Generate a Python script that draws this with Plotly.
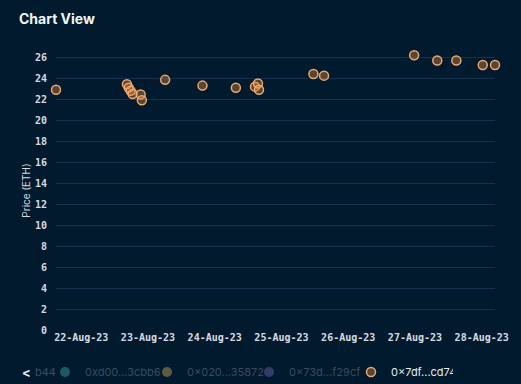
import plotly.graph_objects as go

# ---- data ----
times = [
    "2023-08-21 14:56", "2023-08-22 16:26", "2023-08-22 17:04", "2023-08-22 17:47",
    "2023-08-22 18:29", "2023-08-22 21:22", "2023-08-22 21:48", "2023-08-23 06:10",
    "2023-08-23 19:36", "2023-08-24 07:36", "2023-08-24 14:30", "2023-08-24 15:33",
    "2023-08-24 15:55", "2023-08-25 11:30", "2023-08-25 15:19", "2023-08-26 23:43",
    "2023-08-27 08:01", "2023-08-27 14:53", "2023-08-28 00:23", "2023-08-28 04:47",
]
prices = [22.9, 23.43, 23.1, 22.8, 22.5, 22.45, 21.9, 23.85, 23.3, 23.1,
          23.2, 23.5, 22.9, 24.4, 24.25, 26.2, 25.7, 25.7, 25.27, 25.27]

hidden_series = ["0xd00...3cbb6", "0×020...35872", "0×73d...f29cf"]
hidden_colors = ["#2f9c9c", "#b89a55", "#6a5aa8"]
main_series = "0×7df...cd747"
y_ticks = list(range(0, 27, 2))

BG = "#021a2e"
GRID = "#14304a"
TXT = "#d4dae2"

fig = go.Figure()
for name, col in zip(hidden_series, hidden_colors):
    fig.add_trace(go.Scatter(
        x=[times[0]], y=[prices[0]], mode="markers",
        name=f"<span style='color:#6e7a8a'>{name}</span>",
        visible="legendonly",
        marker=dict(size=10, color=col),
    ))

fig.add_trace(go.Scatter(
    x=times, y=prices, mode="markers", name=main_series,
    cliponaxis=False,
    marker=dict(size=9, color="rgba(236,136,52,0.38)",
                line=dict(color="#eaa873", width=1.5)),
))

mono = dict(family="DejaVu Sans Mono", size=10, color=TXT, weight="bold")

fig.update_layout(
    width=521, height=384,
    paper_bgcolor=BG, plot_bgcolor=BG,
    margin=dict(l=56, r=23, t=51, b=54),
    title=dict(text="<b>Chart View</b>", x=19 / 521, xref="container", xanchor="left",
               y=1 - 19 / 384, yref="container", yanchor="middle",
               font=dict(family="Inter", size=14, color="#f2f5f8")),
    xaxis=dict(
        type="date", range=[times[0], times[-1]],
        dtick=86400000, tick0="2023-08-22", tickformat="%d-%b-%y",
        showgrid=False, zeroline=False, showline=False, ticks="",
        tickfont=mono,
    ),
    yaxis=dict(
        range=[0, 26.6], tickvals=y_ticks, showgrid=True, gridcolor=GRID, gridwidth=1,
        zeroline=False, showline=False, ticks="", ticklabelstandoff=8,
        tickfont=mono,
        title=dict(text="Price (ETH)", font=dict(family="Inter", size=10, color=TXT),
                   standoff=2),
    ),
    legend=dict(
        orientation="h", xref="container", yref="container",
        x=45 / 521, xanchor="left", y=1 - 372 / 384, yanchor="middle",
        font=dict(family="Inter", size=11, color="#e6ebf0"),
        entrywidth=57, entrywidthmode="pixels",
        bgcolor="rgba(0,0,0,0)", itemclick=False,
    ),
    showlegend=True,
    annotations=[
        dict(text="<b><</b>", xref="paper", yref="paper", x=-30 / 442, y=-42 / 279,
             xanchor="center", yanchor="middle", showarrow=False,
             font=dict(family="Inter", size=13, color="#e6ebf0")),
        dict(text="b44", xref="paper", yref="paper", x=-23 / 442, y=-42 / 279,
             xanchor="left", yanchor="middle", showarrow=False,
             font=dict(family="Inter", size=11, color="#3a4c5e")),
    ],
)

fig.write_html("out.html",
               config={"displayModeBar": False},
               post_script="document.body.style.margin='0';document.body.style.overflow='hidden';")
